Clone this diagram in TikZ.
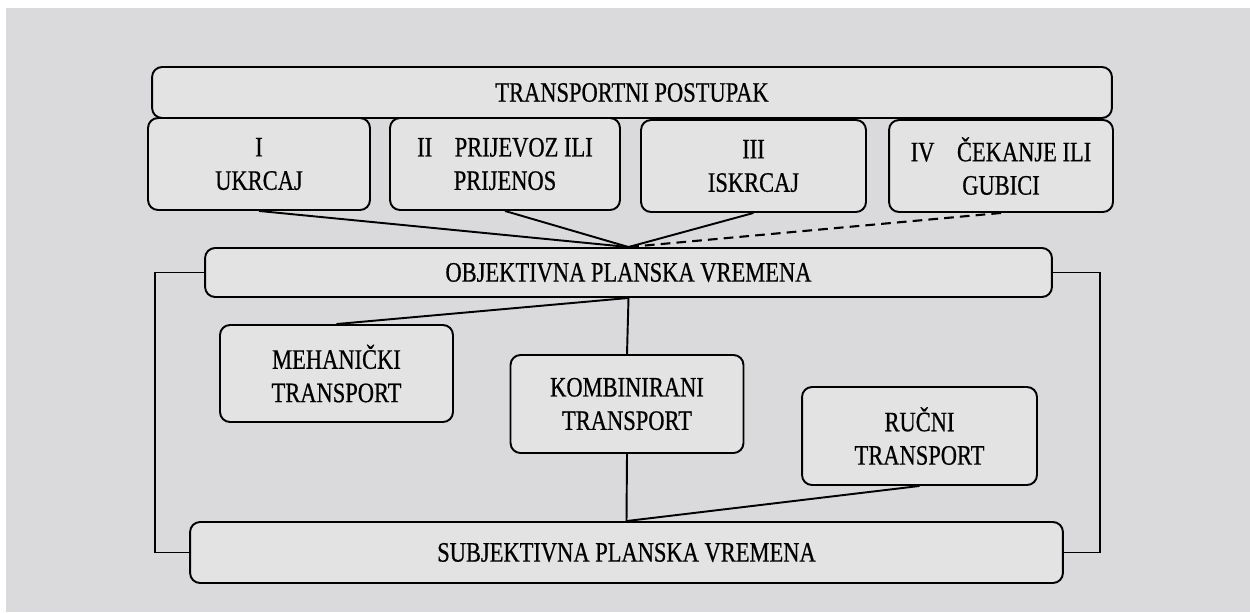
\documentclass[tikz,border=0pt]{standalone}
\usepackage{fontspec}
\setmainfont{Liberation Serif}[FakeStretch=0.8, FakeBold=0.6]
\definecolor{paper}{RGB}{218,218,220}
\definecolor{boxfill}{RGB}{227,227,228}
\tikzset{
    blok/.style={draw, rounded corners=0.2cm, fill=boxfill, align=center, inner sep=0pt,
                 font=\fontsize{16pt}{19pt}\selectfont},
    veza/.style={line width=1.1pt},
    isprekidano/.style={line width=1.2pt, dash pattern=on 5.5pt off 3.5pt},
}

\begin{document}
\begin{tikzpicture}[x=0.02cm, y=-0.02cm, line width=1.1pt]
        \fill[white] (0, 0) rectangle (1250, 612);
        \fill[paper] (6, 8) rectangle (1250, 612);
        \useasboundingbox (0, 0) rectangle (1250, 612);

        \node[blok, minimum width=19.2cm, minimum height=1.02cm]  (tp)   at (632, 92.5)  {TRANSPORTNI POSTUPAK};
        \node[blok, minimum width=4.44cm, minimum height=1.84cm]  (uk)   at (259, 164)   {I\\UKRCAJ};
        \node[blok, minimum width=4.6cm,  minimum height=1.84cm]  (pr)   at (505, 164)   {II\hspace{0.45cm}PRIJEVOZ ILI\\PRIJENOS};
        \node[blok, minimum width=4.5cm,  minimum height=1.84cm]  (is)   at (753.5, 166) {III\\ISKRCAJ};
        \node[blok, minimum width=4.48cm, minimum height=1.84cm]  (ce)   at (1001, 166)  {IV\hspace{0.45cm}ČEKANJE ILI\\GUBICI};
        \node[blok, minimum width=16.94cm, minimum height=0.98cm] (obj)  at (628.5, 272.5) {OBJEKTIVNA PLANSKA VREMENA};
        \node[blok, minimum width=4.66cm, minimum height=1.94cm]  (meh)  at (336.5, 373.5) {MEHANIČKI\\TRANSPORT};
        \node[blok, minimum width=4.66cm, minimum height=1.96cm]  (kom)  at (627, 404)   {KOMBINIRANI\\TRANSPORT};
        \node[blok, minimum width=4.7cm,  minimum height=1.96cm]  (ruc)  at (919.5, 436) {RUČNI\\TRANSPORT};
        \node[blok, minimum width=17.46cm, minimum height=1.22cm] (subj) at (626.5, 552.5) {SUBJEKTIVNA PLANSKA VREMENA};
        \coordinate (lijevo) at (155, 0);
        \coordinate (desno)  at (1100, 0);

        \draw[veza]        (uk.south)  -- (obj.north);
        \draw[veza]        (pr.south)  -- (obj.north);
        \draw[veza]        (is.south)  -- (obj.north);
        \draw[isprekidano] (ce.south)  -- (obj.north);
        \draw[veza]        (obj.south) -- (meh.north);
        \draw[veza]        (obj.south) -- (kom.north);
        \draw[veza]        (kom.south) -- (subj.north);
        \draw[veza]        (ruc.south) -- (subj.north);
        \draw[veza]        (obj.west)  -- (obj.west -| lijevo)  -- (subj.west -| lijevo)  -- (subj.west);
        \draw[veza]        (obj.east)  -- (obj.east -| desno)   -- (subj.east -| desno)   -- (subj.east);
\end{tikzpicture}
\end{document}
